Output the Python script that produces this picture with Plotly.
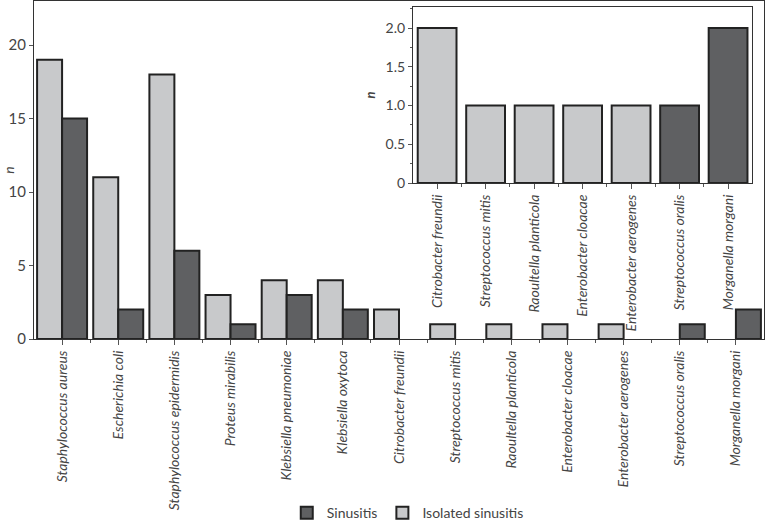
import plotly.graph_objects as go

# bacteria isolated, counts per group
species = [
    "Staphylococcus aureus", "Escherichia coli", "Staphylococcus epidermidis",
    "Proteus mirabilis", "Klebsiella pneumoniae", "Klebsiella oxytoca",
    "Citrobacter freundii", "Streptococcus mitis", "Raoultella planticola",
    "Enterobacter cloacae", "Enterobacter aerogenes", "Streptococcus oralis",
    "Morganella morgani",
]
isolated = [19, 11, 18, 3, 4, 4, 2, 1, 1, 1, 1, 0, 0]
sinusitis = [15, 2, 6, 1, 3, 2, 0, 0, 0, 0, 0, 1, 2]

# the inset zooms on the rare species
inset_from = 6

LIGHT = "#c8c9cb"
DARK = "#5f6062"
EDGE = "#222222"
TXT = "#444444"
FONT = "Lato"


def nz(vals):
    return [v if v else None for v in vals]


pos = list(range(len(species)))

fig = go.Figure()
fig.add_trace(go.Bar(x=pos, y=nz(isolated), name="Isolated sinusitis",
                     marker=dict(color=LIGHT, line=dict(color=EDGE, width=2))))
fig.add_trace(go.Bar(x=pos, y=nz(sinusitis), name="Sinusitis",
                     marker=dict(color=DARK, line=dict(color=EDGE, width=2))))

# inset: one bar per species, coloured by the group it came from
ins_names = species[inset_from:]
ins_vals = [i if i else s for i, s in zip(isolated[inset_from:], sinusitis[inset_from:])]
ins_cols = [LIGHT if i else DARK for i in isolated[inset_from:]]
ins_pos = list(range(len(ins_names)))
fig.add_trace(go.Bar(x=ins_pos, y=ins_vals, xaxis="x2", yaxis="y2", width=0.8,
                     offsetgroup="inset", showlegend=False,
                     marker=dict(color=ins_cols, line=dict(color=EDGE, width=2))))

axis_common = dict(showline=True, linecolor="#333", linewidth=1, mirror=True,
                   showgrid=False, zeroline=False, ticks="outside", automargin=False,
                   tickcolor="#555", tickfont=dict(family=FONT, size=14, color=TXT))
label_font = dict(family=FONT, size=14, color=TXT, style="italic")

fig.update_layout(
    width=767, height=523,
    margin=dict(l=34, r=3, t=1, b=184, autoexpand=False),
    paper_bgcolor="white", plot_bgcolor="white",
    barmode="group", bargap=0.11, bargroupgap=0,
    font=dict(family=FONT, color=TXT),
    xaxis=dict(axis_common, range=[-0.5, len(species) - 0.5],
               tickvals=pos, ticktext=species, tickangle=-90, ticklen=5,
               tickfont=label_font,
               minor=dict(tickvals=[p + 0.5 for p in pos[:-1]], ticklen=3,
                          ticks="outside", tickcolor="#555")),
    yaxis=dict(axis_common, range=[0, 23], tickvals=[0, 5, 10, 15, 20], ticklen=4,
               tickfont=dict(family=FONT, size=15, color=TXT),
               title=dict(text="n", standoff=10,
                          font=dict(family=FONT, size=14, color=TXT, style="italic"))),
    xaxis2=dict(axis_common, domain=[0.519, 0.984], anchor="y2",
                range=[-0.5, len(ins_names) - 0.5],
                tickvals=ins_pos, ticktext=ins_names, tickangle=-90, ticklen=5,
                tickfont=label_font,
                minor=dict(tickvals=[p + 0.5 for p in ins_pos[:-1]], ticklen=3,
                           ticks="outside", tickcolor="#555")),
    yaxis2=dict(axis_common, domain=[0.4615, 0.982], anchor="x2", range=[0, 2.27],
                tickvals=[0, 0.5, 1, 1.5, 2], ticktext=["0", "0.5", "1.0", "1.5", "2.0"],
                ticklen=4,
                minor=dict(dtick=0.25, ticklen=2, ticks="outside", tickcolor="#555"),
                title=dict(text="<b>n</b>", standoff=6,
                           font=dict(family=FONT, size=13, color=TXT, style="italic"))),
    legend=dict(orientation="h", traceorder="reversed", x=0.512, xanchor="center",
                y=-0.515, yanchor="middle", itemwidth=30,
                font=dict(family=FONT, size=14, color=TXT)),
)

# drop the default page margin so the chart sits at the window's corner
fig.write_html("out.html", config={"displayModeBar": False},
               post_script="document.body.style.margin='0px';")
